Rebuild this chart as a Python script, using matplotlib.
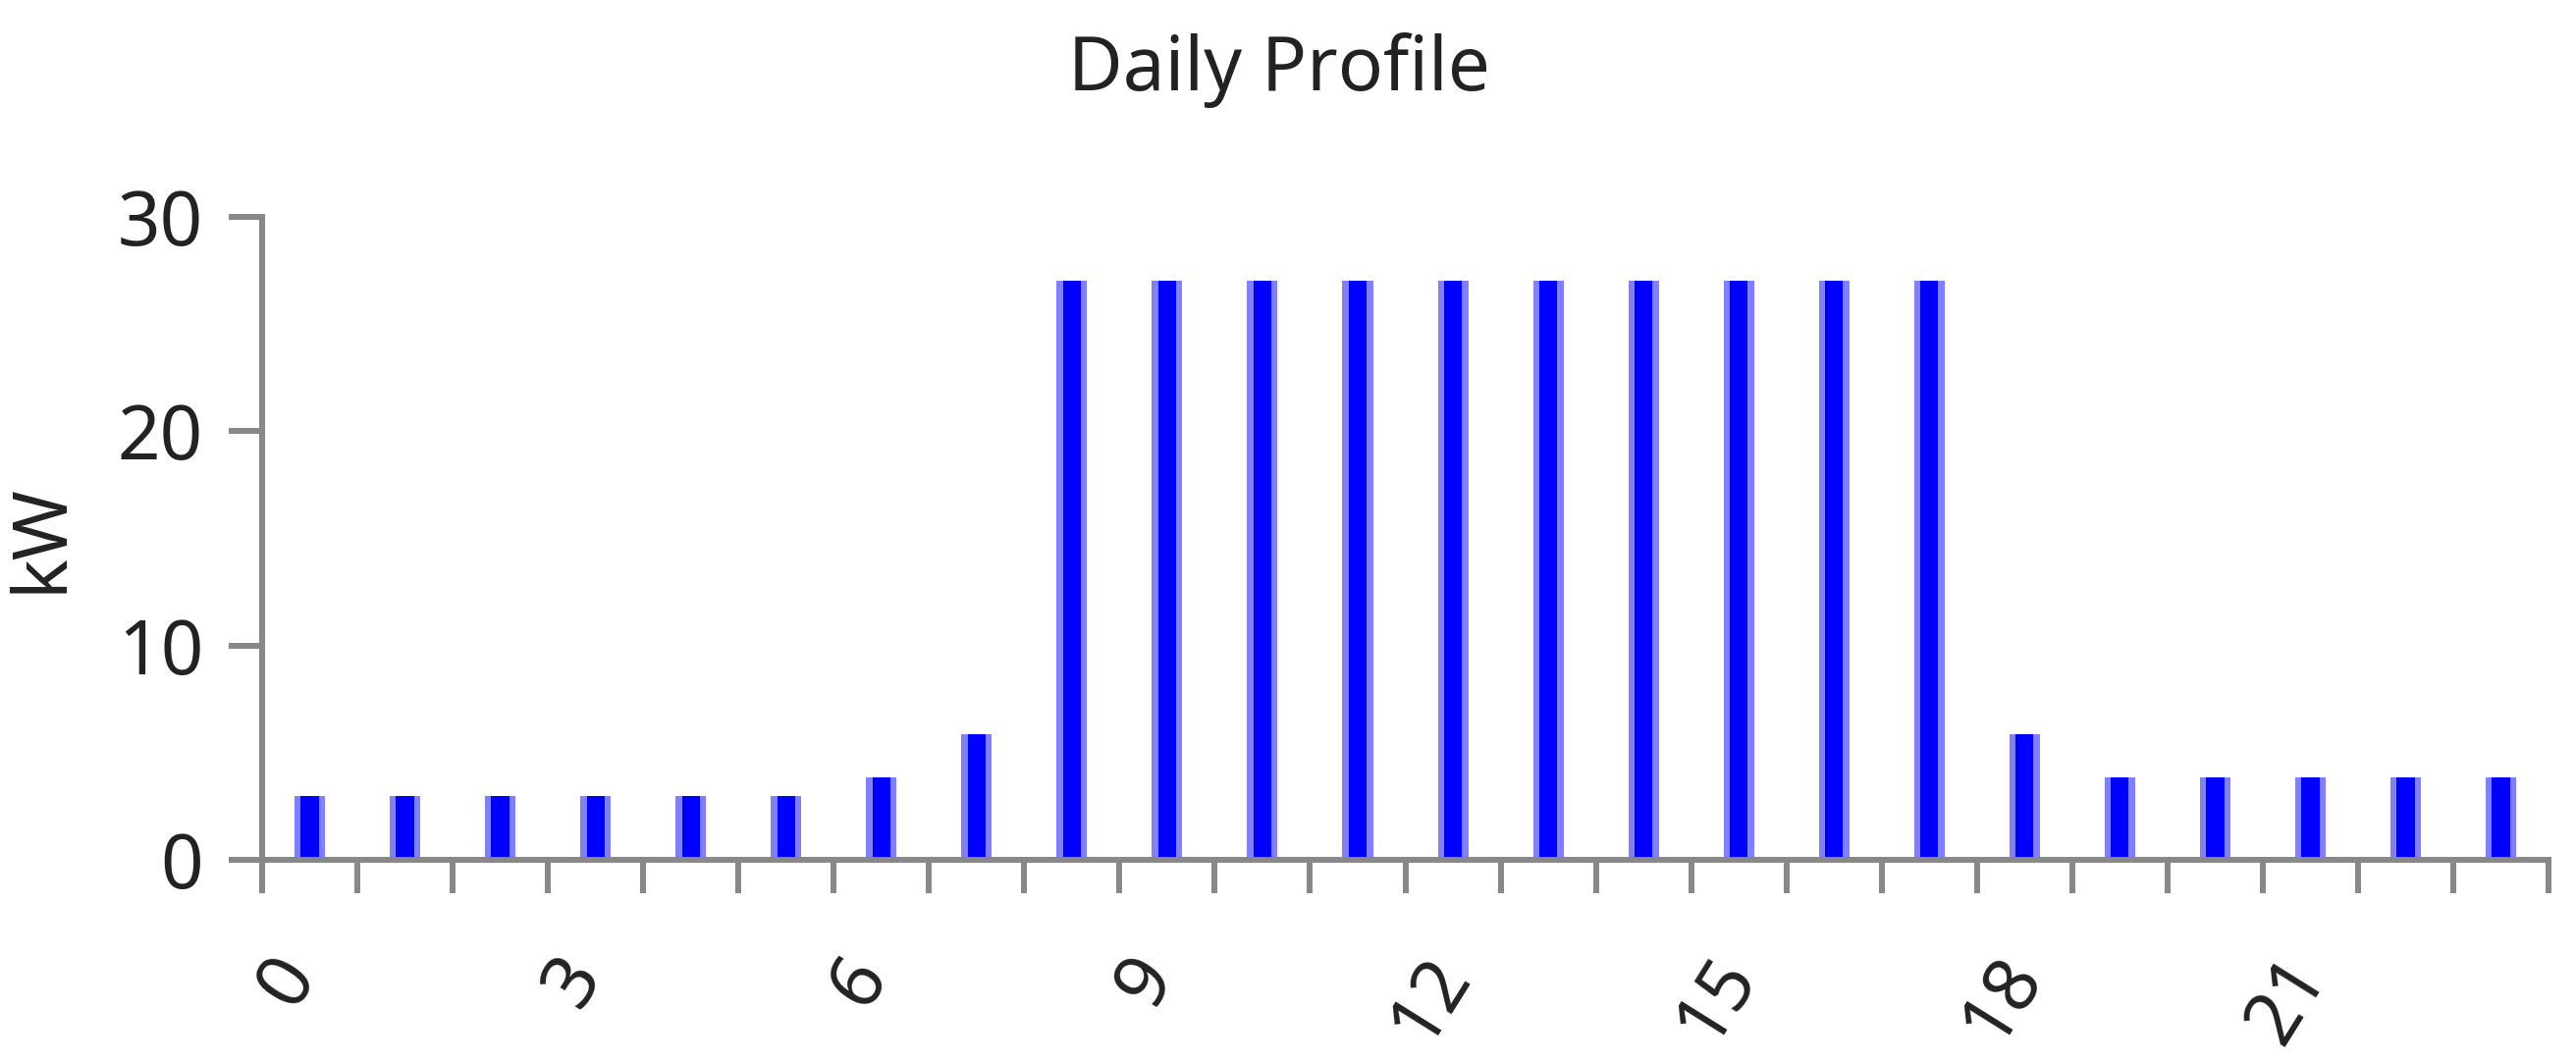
"""Daily Profile 柱状图：逐小时负荷 (kW)"""

import matplotlib

matplotlib.use("Agg")
import matplotlib.pyplot as plt
import matplotlib.transforms as mtransforms
import numpy as np

# 数据
hours = list(range(24))
load_kw = [
    3, 3, 3, 3, 3, 3, 3.85, 5.85,
    27, 27, 27, 27, 27, 27, 27, 27, 27, 27,
    5.85, 3.85, 3.85, 3.85, 3.85, 3.85,
]
label_hours = [0, 3, 6, 9, 12, 15, 18, 21]
y_ticks = [0, 10, 20, 30]
title = "Daily Profile"
ylabel = "kW"

plt.rcParams["font.family"] = ["Noto Sans", "DejaVu Sans"]

AXIS_GREY = "#888888"
TEXT_COLOR = "#222222"
DPI = 100
FONT_SIZE = 55
LINE_W = 4.3

fig = plt.figure(figsize=(26.24, 10.83), dpi=DPI, facecolor="white")
ax = fig.add_axes([0.1018, 0.1909, 0.8875, 0.6052])

x = np.array(hours) + 0.5
# 浅色外沿 + 深蓝内芯
ax.bar(x, load_kw, width=0.32, color="#8080ff", linewidth=0)
ax.bar(x, load_kw, width=0.19, color="#0000ff", linewidth=0)

ax.set_xlim(0, 24)
ax.set_ylim(0, 30)

for side in ("top", "right"):
    ax.spines[side].set_visible(False)
for side in ("left", "bottom"):
    ax.spines[side].set_color(AXIS_GREY)
    ax.spines[side].set_linewidth(LINE_W)

ax.set_yticks(y_ticks)
ax.set_yticklabels([str(v) for v in y_ticks])
ax.set_xticks(range(25))
ax.set_xticklabels([str(h) if h in label_hours else "" for h in range(25)])

ax.tick_params(
    axis="both",
    direction="out",
    length=24.5,
    width=LINE_W,
    color=AXIS_GREY,
    labelsize=FONT_SIZE,
    labelcolor=TEXT_COLOR,
)
ax.tick_params(axis="y", pad=18.7)
ax.tick_params(axis="x", pad=37)

# x 轴标签旋转并向右偏移
offset = mtransforms.ScaledTranslation(26 / DPI, 0, fig.dpi_scale_trans)
for label in ax.get_xticklabels():
    label.set_rotation(58)
    label.set_ha("center")
    label.set_va("top")
    label.set_transform(label.get_transform() + offset)

ax.set_ylabel(ylabel, fontsize=FONT_SIZE, color=TEXT_COLOR)
ax.yaxis.set_label_coords(-0.08, 0.5)

fig.text(
    0.4966,
    1 - 92 / 1083,
    title,
    ha="center",
    va="baseline",
    fontsize=FONT_SIZE,
    color=TEXT_COLOR,
)

fig.savefig("out.png", dpi=DPI, facecolor=fig.get_facecolor())
